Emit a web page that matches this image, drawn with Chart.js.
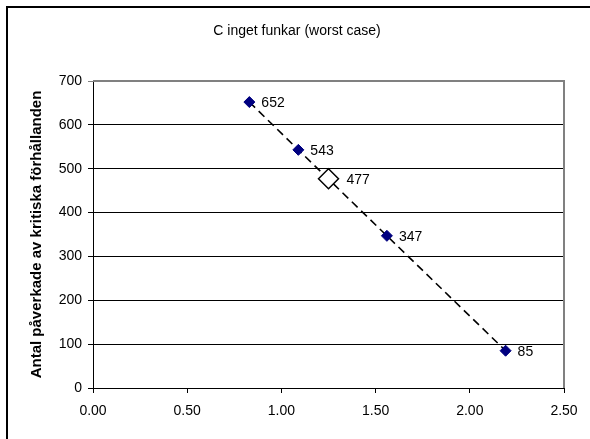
<!DOCTYPE html>
<html>
<head>
<meta charset="utf-8">
<script src="https://cdn.jsdelivr.net/npm/chart.js@4/dist/chart.umd.min.js"></script>
<style>
  html, body { margin: 0; padding: 0; background: #fff; }
  #wrap { width: 590px; height: 439px; }
</style>
</head>
<body>
<div id="wrap"><canvas id="chart" width="590" height="439"></canvas></div>
<script>
// data
const titleText = "C inget funkar (worst case)";
const yTitle = "Antal påverkade av kritiska förhållanden";
const xValues = [0.83, 1.09, 1.56, 2.19];
const yValues = [652, 543, 347, 85];
const markX = [1.25];
const markY = [477];
const xTicks = { min: 0, max: 2.5, step: 0.5 };
const yTicks = { min: 0, max: 700, step: 100 };

const FONT = "'Liberation Sans', Arial, sans-serif";

/* === decorations: frame, title, plot border, value labels === */
const decor = {
  id: "decor",
  beforeDraw(chart) {
    const ctx = chart.ctx;
    ctx.save();
    ctx.fillStyle = "#fff";
    ctx.fillRect(0, 0, chart.width, chart.height);
    ctx.strokeStyle = "#000";
    ctx.lineWidth = 2;
    ctx.strokeRect(7, 7, 700, 700);
    ctx.fillStyle = "#000";
    ctx.font = "14px " + FONT;
    ctx.textAlign = "center";
    ctx.textBaseline = "middle";
    ctx.fillText(titleText, 297, 31);
    ctx.restore();
  },
  beforeDatasetsDraw(chart) {
    const { left, top, right, bottom } = chart.chartArea;
    const ctx = chart.ctx;
    ctx.save();
    ctx.strokeStyle = "#808080";
    ctx.lineWidth = 2;
    ctx.beginPath();
    ctx.moveTo(left, top);
    ctx.lineTo(right, top);
    ctx.lineTo(right, bottom);
    ctx.stroke();
    ctx.restore();
  },
  afterDatasetsDraw(chart) {
    const ctx = chart.ctx;
    ctx.save();
    ctx.fillStyle = "#000";
    ctx.font = "14px " + FONT;
    ctx.textAlign = "left";
    ctx.textBaseline = "middle";
    chart.data.datasets.forEach((ds, i) => {
      const meta = chart.getDatasetMeta(i);
      meta.data.forEach((pt, j) => {
        ctx.fillText(String(ds.data[j].y), pt.x + ds.labelOffset, pt.y + 1);
      });
    });
    ctx.restore();
  }
};

new Chart(document.getElementById("chart"), {
  type: "scatter",
  data: {
    datasets: [
      {
        data: markX.map((x, i) => ({ x, y: markY[i] })),
        pointStyle: "rectRot",
        pointRadius: 10,
        pointBackgroundColor: "#fff",
        pointBorderColor: "#000",
        pointBorderWidth: 1.5,
        showLine: false,
        labelOffset: 18
      },
      {
        data: xValues.map((x, i) => ({ x, y: yValues[i] })),
        pointStyle: "rectRot",
        pointRadius: 5.5,
        pointBackgroundColor: "#000080",
        pointBorderColor: "#000080",
        pointBorderWidth: 1,
        showLine: true,
        borderColor: "#000",
        borderWidth: 1.6,
        borderDash: [8, 5],
        tension: 0,
        labelOffset: 12
      }
    ]
  },
  options: {
    responsive: false,
    animation: false,
    events: [],
    layout: { padding: { left: 0, right: 26, top: 81, bottom: 0 } },
    plugins: {
      legend: { display: false },
      title: { display: false },
      tooltip: { enabled: false }
    },
    scales: {
      x: {
        type: "linear",
        min: xTicks.min,
        max: xTicks.max,
        ticks: {
          stepSize: xTicks.step,
          color: "#000",
          font: { family: FONT, size: 14 },
          padding: 10,
          maxRotation: 0,
          callback: (v) => Number(v).toFixed(2)
        },
        grid: { drawOnChartArea: false, drawTicks: true, tickLength: 5, color: "#000" },
        border: { color: "#000", width: 1 },
        afterFit: (s) => { s.height = 51; }
      },
      y: {
        min: yTicks.min,
        max: yTicks.max,
        ticks: {
          stepSize: yTicks.step,
          color: "#000",
          font: { family: FONT, size: 14 },
          padding: 6
        },
        grid: {
          tickLength: 5,
          color: (c) => (c.tick && c.tick.value === yTicks.max ? "#808080" : "#000")
        },
        border: { color: "#000", width: 1 },
        title: {
          display: true,
          text: yTitle,
          color: "#000",
          font: { family: FONT, size: 15, weight: "bold" },
          padding: { top: 28, bottom: 0 }
        },
        afterFit: (s) => { s.width = 93; }
      }
    }
  },
  plugins: [decor]
});
</script>
</body>
</html>
